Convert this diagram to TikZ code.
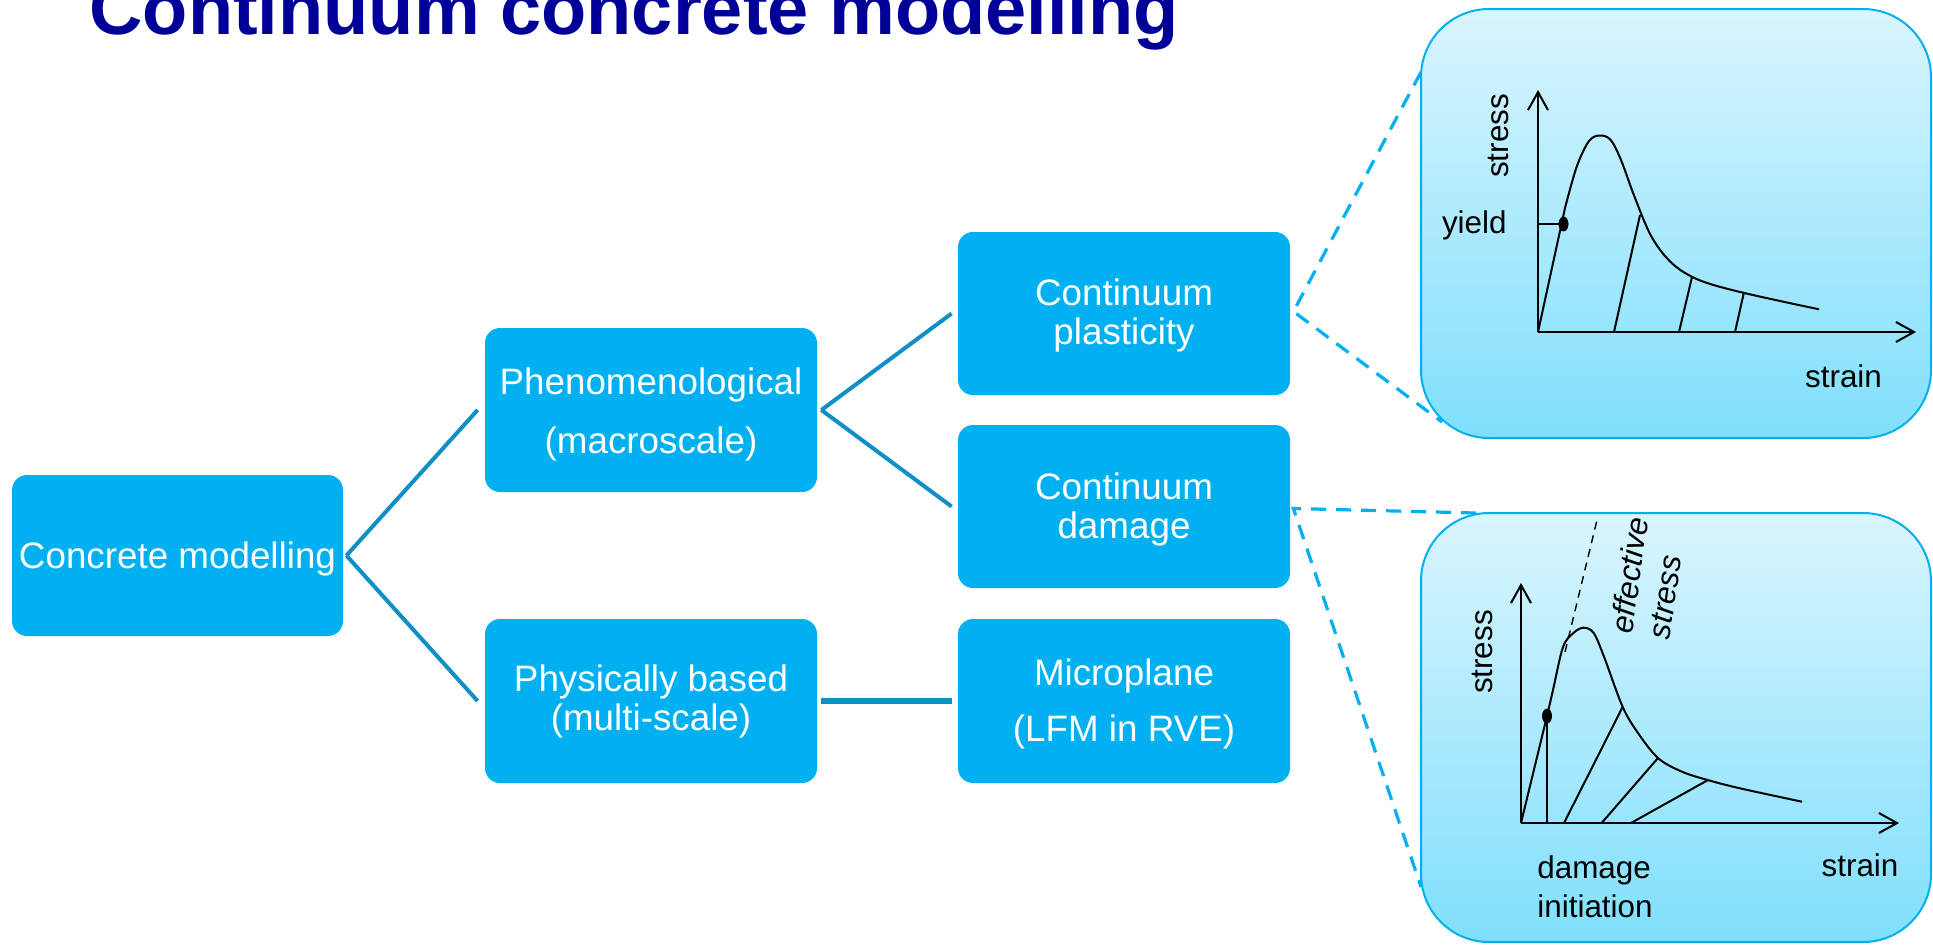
\documentclass[tikz,border=0pt]{standalone}
\usepackage{fontspec}
\setmainfont{Liberation Sans}
\usetikzlibrary{arrows.meta}
\definecolor{boxblue}{RGB}{0,176,240}
\definecolor{linkblue}{RGB}{14,144,198}
\definecolor{titleblue}{RGB}{0,0,153}
\definecolor{paneltop}{RGB}{218,245,254}
\definecolor{panelbot}{RGB}{128,223,252}
% centred lines of box text, lowered a little inside the box
\newcommand{\boxtxt}[2]{\raisebox{-#1}[\height][\depth]{\begin{tabular}{@{}c@{}}#2\end{tabular}}}

\begin{document}
\begin{tikzpicture}[x=0.5pt,y=-0.5pt,
  box/.style={fill=boxblue, rounded corners=7.5pt, text=white, inner sep=0pt,
    minimum width=166pt, minimum height=82pt,
    font=\fontsize{18.4pt}{19.5pt}\selectfont},
  link/.style={draw=linkblue, line width=2pt},
  zoomline/.style={draw=boxblue, line width=1.6pt, dash pattern=on 7.5pt off 5pt},
  panel/.style={draw=boxblue, line width=1pt, rounded corners=34pt,
    top color=paneltop, bottom color=panelbot,
    minimum width=255pt, minimum height=214.5pt, inner sep=0pt},
  axis/.style={line width=1pt, -{Straight Barb[length=9pt,width=10pt,line width=1pt]}},
  curve/.style={line width=1pt, line join=round},
  lbl/.style={font=\fontsize{15.7pt}{19.5pt}\selectfont, inner sep=0pt},
]
\clip (0,0) rectangle (1933,944);
\fill[white] (0,0) rectangle (1933,944);

% title
\node[anchor=base west, inner sep=0pt, text=titleblue,
  font=\fontsize{37pt}{40pt}\selectfont\bfseries] (title) at (89,34)
  {Continuum concrete modelling};

% classification tree
\node[box, minimum width=165.5pt, minimum height=80.5pt] (cm) at (177.5,555.5) {\boxtxt{2.5pt}{Concrete modelling}};
\node[box] (phen) at (651,410) {\boxtxt{3pt}{Phenomenological\\[10pt](macroscale)}};
\node[box] (phys) at (651,701) {\boxtxt{1.2pt}{Physically based\\(multi-scale)}};
\node[box, minimum height=81.5pt] (plas) at (1124,313.5) {\boxtxt{2pt}{Continuum\\plasticity}};
\node[box, minimum height=81.5pt] (dam) at (1124,506.5) {\boxtxt{2.5pt}{Continuum\\damage}};
\node[box] (micro) at (1124,701) {\boxtxt{2.3pt}{Microplane\\[8.5pt](LFM in RVE)}};

\draw[link] ([xshift=1.5pt]cm.east) -- ([xshift=-3.5pt]phen.west);
\draw[link] ([xshift=1.5pt]cm.east) -- ([xshift=-3.5pt]phys.west);
\draw[link] ([xshift=2pt]phen.east) -- ([xshift=-3pt]plas.west);
\draw[link] ([xshift=2pt]phen.east) -- ([xshift=-3pt]dam.west);
\draw[link, line width=2.8pt] ([xshift=2pt]phys.east) -- ([xshift=-3pt]micro.west);

% detail panels
\node[panel] (p1) at (1676,223.5) {};
\node[panel] (p2) at (1676,727.5) {};

\coordinate (p1a) at (1421,72);
\coordinate (p1b) at (1442,422);
\coordinate (p2a) at (1476,513);
\coordinate (p2b) at (1421,887);
\draw[zoomline] (p1a) -- ([xshift=1.5pt,yshift=1pt]plas.east) -- (p1b);
\draw[zoomline] (p2a) -- ([xshift=1.5pt,yshift=-1pt]dam.east) -- (p2b);

% plasticity: stress-strain curve
\coordinate (o1) at (1538,332);
\coordinate (y1) at (1538,90);
\coordinate (x1) at (1916,332);
\draw[axis] (o1) -- (y1);
\draw[axis] (o1) -- (x1);
\draw[curve] (o1) -- (1565,208) -- plot[smooth, tension=0.55] coordinates {
  (1565,208) (1576.7,166.7) (1589,141) (1600,135.5) (1610.7,140) (1621,160)
  (1634.5,196.7) (1651.5,236.7) (1672,263.3) (1699,280) (1743,292.7) (1819,309.3)};
\draw[curve] (1614,332) -- (1640,215);
\draw[curve] (1679,332) -- (1692,277);
\draw[curve] (1735,332) -- (1744,292);
\draw[curve] (o1 |- 0,224) -- (1563,224);
\fill (1563.5,224) ellipse [x radius=2.5pt, y radius=3.7pt];
\node[lbl, rotate=90] (s1) at (1498,136) {stress};
\node[lbl, anchor=base east] (yl) at (1507,233) {yield};
\node[lbl, anchor=base] (e1) at (1843.5,387) {strain};

% damage: stress-strain curve
\coordinate (o2) at (1521,823);
\coordinate (y2) at (1521,583);
\coordinate (x2) at (1899,823);
\draw[axis] (o2) -- (y2);
\draw[axis] (o2) -- (x2);
\draw[line width=0.7pt, dash pattern=on 4pt off 3pt] (1565,652) -- (1597,520);
\draw[curve] (o2) -- (1547,716) -- plot[smooth, tension=0.55] coordinates {
  (1547,716) (1553,690) (1563,647) (1573.4,633) (1583.5,627.7) (1593.7,633)
  (1604,656.7) (1622.6,706.7) (1638,733) (1658.3,758.3) (1682,771.7)
  (1707.6,780) (1740,788.3) (1802,801.7)};
\draw[curve] (1547,716) -- (1547,823);
\draw[curve] (1564,823) -- (1622.6,707);
\draw[curve] (1601.6,823) -- (1658,758);
\draw[curve] (1631,823) -- (1708,780);
\fill (1547,716) ellipse [x radius=2.5pt, y radius=3.7pt];
\node[lbl, rotate=90] (s2) at (1482,652) {stress};
\node[lbl, rotate=82, align=left, font=\fontsize{15.7pt}{19pt}\selectfont\itshape] (eff) at (1648,578) {effective\\stress};
\node[lbl, anchor=base west, align=left] (di) at (1537,917) {damage\\initiation};
\node[lbl, anchor=base] (e2) at (1860,876) {strain};
\end{tikzpicture}
\end{document}
